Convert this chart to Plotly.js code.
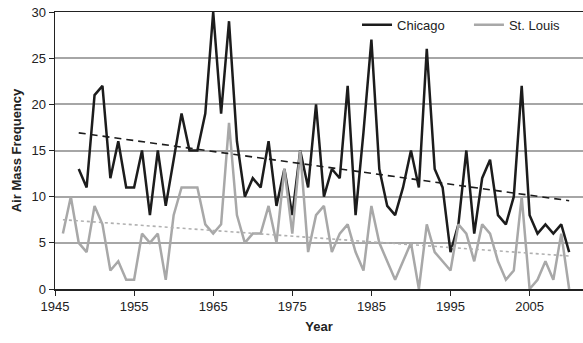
<!DOCTYPE html>
<html>
<head>
<meta charset="utf-8">
<script src="https://cdn.plot.ly/plotly-3.0.1.min.js"></script>
<style>html,body{margin:0;padding:0;background:#fff;}#chart{width:583px;height:343px;}</style>
</head>
<body>
<div id="chart"></div>
<script>
const chicagoYears = [1948,1949,1950,1951,1952,1953,1954,1955,1956,1957,1958,1959,1960,1961,1962,1963,1964,1965,1966,1967,1968,1969,1970,1971,1972,1973,1974,1975,1976,1977,1978,1979,1980,1981,1982,1983,1984,1985,1986,1987,1988,1989,1990,1991,1992,1993,1994,1995,1996,1997,1998,1999,2000,2001,2002,2003,2004,2005,2006,2007,2008,2009,2010];
const chicagoValues = [13,11,21,22,12,16,11,11,15,8,15,9,14,19,15,15,19,30,19,29,16,10,12,11,16,9,13,8,15,11,20,10,13,12,22,8,17,27,13,9,8,11,15,11,26,13,11,4,7,15,6,12,14,8,7,10,22,8,6,7,6,7,4];
const stLouisYears = [1946,1947,1948,1949,1950,1951,1952,1953,1954,1955,1956,1957,1958,1959,1960,1961,1962,1963,1964,1965,1966,1967,1968,1969,1970,1971,1972,1973,1974,1975,1976,1977,1978,1979,1980,1981,1982,1983,1984,1985,1986,1987,1988,1989,1990,1991,1992,1993,1994,1995,1996,1997,1998,1999,2000,2001,2002,2003,2004,2005,2006,2007,2008,2009,2010];
const stLouisValues = [6,10,5,4,9,7,2,3,1,1,6,5,6,1,8,11,11,11,7,6,7,18,8,5,6,6,9,5,13,6,15,4,8,9,4,6,7,4,2,9,5,3,1,3,5,0,7,4,3,2,7,6,3,7,6,3,1,2,10,0,1,3,1,6,0];
const xTickValues = [1945,1955,1965,1975,1985,1995,2005];
const yTickValues = [0,5,10,15,20,25,30];

function trend(xs, ys) {
  const n = xs.length;
  let sx = 0, sy = 0, sxx = 0, sxy = 0;
  for (let i = 0; i < n; i++) { sx += xs[i]; sy += ys[i]; sxx += xs[i]*xs[i]; sxy += xs[i]*ys[i]; }
  const b = (n*sxy - sx*sy) / (n*sxx - sx*sx);
  const a = (sy - b*sx) / n;
  return xs.map(x => a + b*x);
}

const font = 'Liberation Sans, Arial, sans-serif';
const traces = [
  {x: chicagoYears, y: chicagoValues, type: 'scatter', mode: 'lines', name: 'Chicago',
   legend: 'legend', line: {color: '#1c1c1c', width: 2.5}},
  {x: stLouisYears, y: stLouisValues, type: 'scatter', mode: 'lines', name: 'St. Louis',
   legend: 'legend2', line: {color: '#a8a8a8', width: 2.5}},
  {x: chicagoYears, y: trend(chicagoYears, chicagoValues), type: 'scatter', mode: 'lines',
   showlegend: false, line: {color: '#1c1c1c', width: 1.6, dash: '7px,5px'}},
  {x: stLouisYears, y: trend(stLouisYears, stLouisValues), type: 'scatter', mode: 'lines',
   showlegend: false, line: {color: '#b0b0b0', width: 1.6, dash: 'dot'}}
];

const legendBase = {orientation: 'h', y: 1.008, xanchor: 'left', yanchor: 'top',
  bgcolor: 'rgba(0,0,0,0)', font: {family: font, size: 13, color: '#222'}, itemwidth: 30};

const layout = {
  width: 583, height: 343,
  margin: {l: 55, r: 0, t: 12, b: 54},
  paper_bgcolor: '#fff', plot_bgcolor: '#fff',
  font: {family: font, size: 13, color: '#222'},
  showlegend: true,
  legend: Object.assign({}, legendBase, {x: 0.572}),
  legend2: Object.assign({}, legendBase, {x: 0.784}),
  xaxis: {range: [1945, 2011.75], tickmode: 'array', tickvals: xTickValues,
          ticktext: xTickValues.map(String), ticks: 'outside', ticklen: 5, tickcolor: '#222',
          showgrid: false, zeroline: false, showline: true, linecolor: '#222', linewidth: 1.5,
          mirror: true,
          title: {text: '<b>Year</b>', font: {family: font, size: 13, color: '#222'}, standoff: 9}},
  yaxis: {range: [0, 30], tickmode: 'array', tickvals: yTickValues,
          ticktext: yTickValues.map(String), ticks: 'outside', ticklen: 5, tickcolor: '#222',
          showgrid: true, gridcolor: '#a6a6a6', gridwidth: 2, zeroline: false,
          showline: true, linecolor: '#222', linewidth: 1.5,
          title: {text: '<b>Air Mass Frequency</b>', font: {family: font, size: 13, color: '#222'}, standoff: 7}}
};

Plotly.newPlot('chart', traces, layout, {displayModeBar: false, staticPlot: true});
</script>
</body>
</html>
